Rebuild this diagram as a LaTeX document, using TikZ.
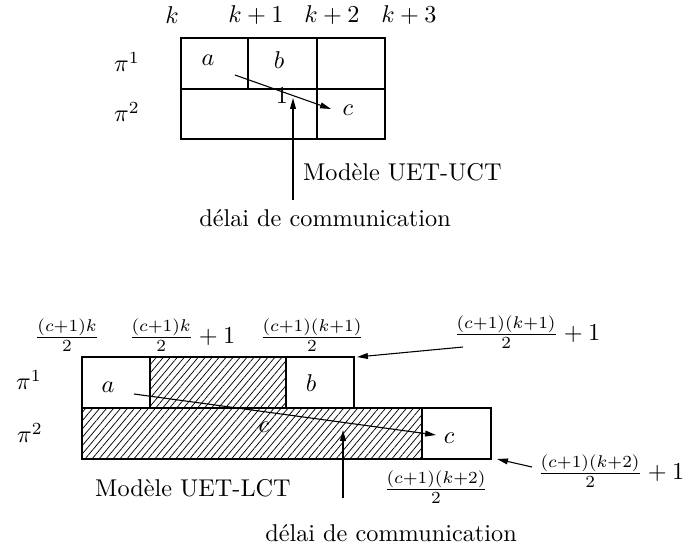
\documentclass[tikz,border=0pt]{standalone}
\usepackage{fontspec}
\usetikzlibrary{arrows.meta,patterns.meta}
\begin{document}
\begin{tikzpicture}[x=0.412pt,y=-0.412pt,
  thin line/.style={line width=0.45pt},
  thick box/.style={line width=0.9pt},
  hatch/.style={pattern={Lines[angle=50,distance=2.2pt,line width=0.3pt]}},
  arr/.style={line width=0.45pt,-{Triangle[length=4.5pt,width=2.4pt]}},
  lbl/.style={inner sep=0pt,outer sep=0pt}]
\useasboundingbox (0,0) rectangle (685,552);

% ---------- top diagram ----------
\node[lbl] (k0) at (172,15) {$k$};
\node[lbl] (k1) at (256,15) {$k+1$};
\node[lbl] (k2) at (332,15) {$k+2$};
\node[lbl] (k3) at (409,15) {$k+3$};
\node[lbl] (p1t) at (127,62) {$\pi^1$};
\node[lbl] (p2t) at (127,112) {$\pi^2$};

\draw[thin line] (181,38) rectangle (385,139);
\draw[thin line] (181,89) -- (385,89);
\draw[thin line] (248,38) -- (248,89);
\draw[thin line] (317,38) -- (317,139);

\node[lbl] (at) at (208,60) {$a$};
\node[lbl] (bt) at (279,60) {$b$};
\node[lbl] (ct) at (348,110) {$c$};
\node[lbl] (one) at (282,96) {$1$};

\coordinate (dAs) at (235,75);
\coordinate (dAe) at (331,109);
\draw[arr] (dAs) -- (dAe);
\coordinate (vAs) at (293,200);
\coordinate (vAe) at (293,98);
\draw[arr] (vAs) -- (vAe);

\node[lbl,anchor=west] (uct) at (303,172) {Modèle UET-UCT};
\node[lbl] (delt) at (325,218) {délai de communication};

% ---------- bottom diagram ----------
\node[lbl] (f1) at (67,335) {$\frac{(c+1)k}{2}$};
\node[lbl] (f2) at (182,335) {$\frac{(c+1)k}{2}+1$};
\node[lbl] (f3) at (312,335) {$\frac{(c+1)(k+1)}{2}$};
\node[lbl] (f4) at (527,332) {$\frac{(c+1)(k+1)}{2}+1$};
\node[lbl] (f5) at (611,471) {$\frac{(c+1)(k+2)}{2}+1$};
\node[lbl] (f6) at (436,487) {$\frac{(c+1)(k+2)}{2}$};

\node[lbl] (p1b) at (29,380) {$\pi^1$};
\node[lbl] (p2b) at (30,433) {$\pi^2$};

\draw[thin line] (82,357) rectangle (354,408);
\draw[thin line] (422,408) rectangle (491,459);
\draw[thick box,hatch] (150,357) rectangle (286,408);
\draw[thick box,hatch] (82,408) rectangle (422,459);

\node[lbl] (ab) at (108,387) {$a$};
\node[lbl] (bb) at (311,383) {$b$};
\node[lbl] (cm) at (264,427) {$c$};
\node[lbl] (cb) at (449,438) {$c$};

\coordinate (dBs) at (134,394);
\coordinate (dBe) at (436,435);
\draw[arr] (dBs) -- (dBe);
\coordinate (vBs) at (343,498);
\coordinate (vBe) at (343,430);
\draw[arr] (vBs) -- (vBe);

\coordinate (rAs) at (463,347);
\coordinate (rAe) at (357,357);
\draw[arr] (rAs) -- (rAe);
\coordinate (rBs) at (532,467);
\coordinate (rBe) at (497,459);
\draw[arr] (rBs) -- (rBe);

\node[lbl] (lct) at (193,488) {Modèle UET-LCT};
\node[lbl] (delb) at (391,533) {délai de communication};
\end{tikzpicture}
\end{document}
